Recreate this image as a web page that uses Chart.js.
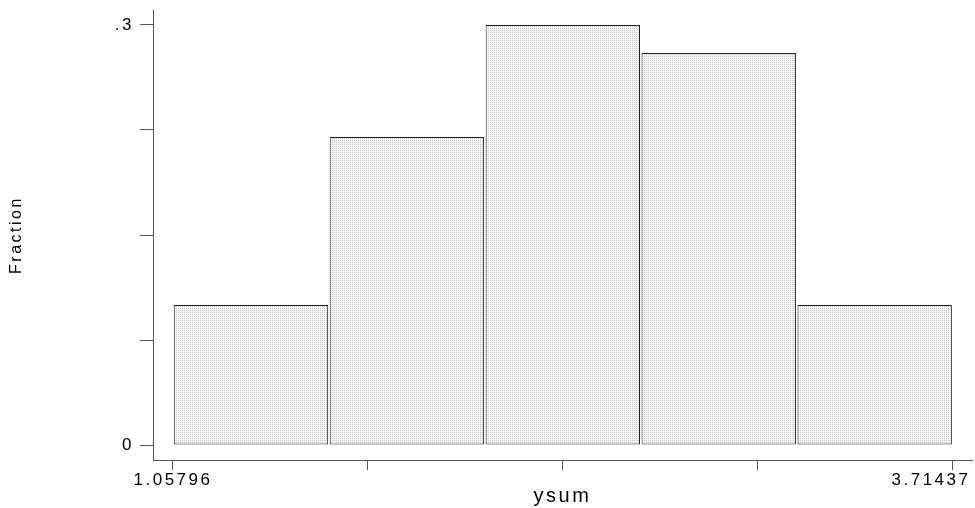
<!DOCTYPE html>
<html>
<head>
<meta charset="utf-8">
<script src="https://cdn.jsdelivr.net/npm/chart.js@4/dist/chart.umd.min.js"></script>
<style>
  html, body { margin: 0; background: #fff; }
  #wrap { width: 975px; height: 508px; }
</style>
</head>
<body>
<div id="wrap"><canvas id="hist" width="975" height="508"></canvas></div>
<script>
// ====== Data ======
const binEdges = [1.05796, 1.58924, 2.12052, 2.65181, 3.18309, 3.71437];
const fractions = [0.10, 0.22, 0.30, 0.28, 0.10];
const xTicks = [1.05796, 1.72206, 2.38617, 3.05027, 3.71437];
const xTickLabels = ['1.05796', '', '', '', '3.71437'];
const yTicks = [0, 0.075, 0.15, 0.225, 0.3];
const yTickLabels = ['0', '', '', '', '.3'];
const xTitle = 'ysum';
const yTitle = 'Fraction';

// ====== Style helpers ======
const FONT = '"Liberation Sans", Arial, sans-serif';
const AXIS = '#555';

// light dotted fill like the original shading
function dotPattern(){
  const c = document.createElement('canvas'); c.width = 2; c.height = 2;
  const g = c.getContext('2d');
  g.fillStyle = '#f3f3f3'; g.fillRect(0, 0, 2, 2);
  g.fillStyle = '#c9c9c9'; g.fillRect(0, 0, 1, 1);
  return g.createPattern(c, 'repeat');
}

// the old graph font is spaced out wide
const spacing = {
  id: 'spacing',
  beforeUpdate(c){ c.ctx.letterSpacing = '2.5px'; },
  beforeDraw(c){ c.ctx.letterSpacing = '2.5px'; }
};

const bars = fractions.map((f, i) => ({ x: (binEdges[i] + binEdges[i + 1]) / 2, y: f }));

new Chart(document.getElementById('hist'), {
  type: 'bar',
  data: {
    datasets: [{
      data: bars,
      backgroundColor: dotPattern(),
      borderColor: '#222',
      borderWidth: 1,
      borderSkipped: false,
      barPercentage: 0.99,
      categoryPercentage: 1
    }]
  },
  options: {
    responsive: false,
    animation: false,
    events: [],
    layout: { padding: { top: 10, right: 3, left: 0, bottom: 0 } },
    plugins: { legend: { display: false }, tooltip: { enabled: false } },
    scales: {
      x: {
        type: 'linear',
        offset: false,
        min: 0.98982, max: 3.78028,
        afterBuildTicks(s){ s.ticks = xTicks.map(v => ({ value: v })); },
        afterFit(s){ s.height = 48; s.paddingLeft = 0; s.paddingRight = 0; },
        ticks: {
          autoSkip: false, maxRotation: 0, padding: 0,
          color: '#000', font: { family: FONT, size: 17 },
          // last label sits pulled in from the right edge, as in the original
          callback: (v, i) => i === xTickLabels.length - 1 ? xTickLabels[i] + '      ' : xTickLabels[i]
        },
        grid: { offset: false, drawOnChartArea: false, drawTicks: true, tickLength: 10, tickColor: AXIS },
        border: { display: true, color: AXIS, width: 1 },
        title: { display: true, text: xTitle, color: '#000', font: { family: FONT, size: 20 }, padding: { top: 0, bottom: 0 } }
      },
      y: {
        min: -0.010714, max: 0.310714,
        afterBuildTicks(s){ s.ticks = yTicks.map(v => ({ value: v })); },
        afterFit(s){ s.width = 153; s.paddingTop = 0; s.paddingBottom = 0; },
        ticks: {
          padding: 6, color: '#000', font: { family: FONT, size: 17 },
          callback: (v, i) => yTickLabels[i]
        },
        grid: { drawOnChartArea: false, drawTicks: true, tickLength: 13, tickColor: AXIS },
        border: { display: true, color: AXIS, width: 1 },
        title: { display: true, text: yTitle, color: '#000', font: { family: FONT, size: 16 }, padding: { top: 7, bottom: 0 } }
      }
    }
  },
  plugins: [spacing]
});
</script>
</body>
</html>
